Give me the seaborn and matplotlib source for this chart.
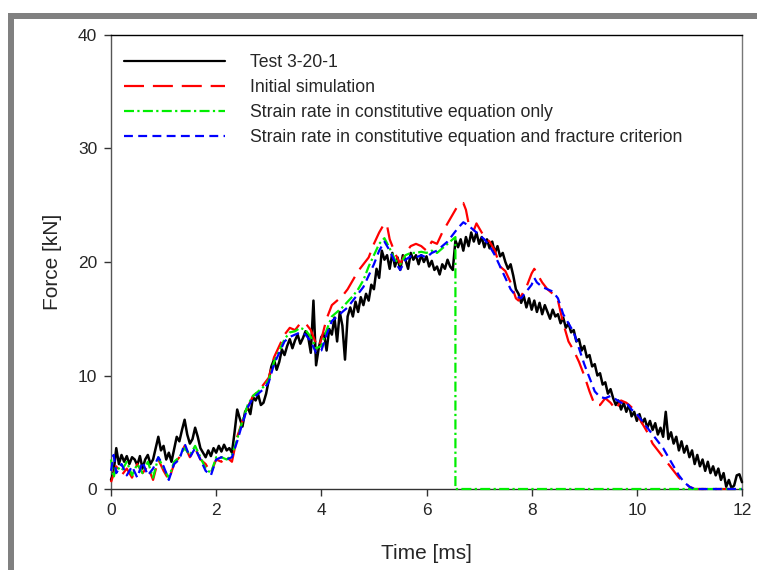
import matplotlib
matplotlib.use("Agg")
import matplotlib.pyplot as plt
import seaborn as sns
import pandas as pd
from matplotlib.patches import Rectangle
from matplotlib.lines import Line2D

# ---------------- data ----------------
test_time = [0.0, 0.05, 0.1, 0.15, 0.2, 0.25, 0.3, 0.35, 0.4, 0.45, 0.5, 0.55, 0.6, 0.65, 0.7, 0.75,
             0.8, 0.85, 0.9, 0.95, 1.0, 1.05, 1.1, 1.15, 1.2, 1.25, 1.3, 1.35, 1.4, 1.45, 1.5, 1.55,
             1.6, 1.65, 1.7, 1.75, 1.8, 1.85, 1.9, 1.95, 2.0, 2.05, 2.1, 2.15, 2.2, 2.25, 2.3, 2.35,
             2.4, 2.45, 2.5, 2.55, 2.6, 2.65, 2.7, 2.75, 2.8, 2.85, 2.9, 2.95, 3.0, 3.05, 3.1, 3.15,
             3.2, 3.25, 3.3, 3.35, 3.4, 3.45, 3.5, 3.55, 3.6, 3.65, 3.7, 3.75, 3.8, 3.85, 3.9, 3.95,
             4.0, 4.05, 4.1, 4.15, 4.2, 4.25, 4.3, 4.35, 4.4, 4.45, 4.5, 4.55, 4.6, 4.65, 4.7, 4.75,
             4.8, 4.85, 4.9, 4.95, 5.0, 5.05, 5.1, 5.15, 5.2, 5.25, 5.3, 5.35, 5.4, 5.45, 5.5, 5.55,
             5.6, 5.65, 5.7, 5.75, 5.8, 5.85, 5.9, 5.95, 6.0, 6.05, 6.1, 6.15, 6.2, 6.25, 6.3, 6.35,
             6.4, 6.45, 6.5, 6.55, 6.6, 6.65, 6.7, 6.75, 6.8, 6.85, 6.9, 6.95, 7.0, 7.05, 7.1, 7.15,
             7.2, 7.25, 7.3, 7.35, 7.4, 7.45, 7.5, 7.55, 7.6, 7.65, 7.7, 7.75, 7.8, 7.85, 7.9, 7.95,
             8.0, 8.05, 8.1, 8.15, 8.2, 8.25, 8.3, 8.35, 8.4, 8.45, 8.5, 8.55, 8.6, 8.65, 8.7, 8.75,
             8.8, 8.85, 8.9, 8.95, 9.0, 9.05, 9.1, 9.15, 9.2, 9.25, 9.3, 9.35, 9.4, 9.45, 9.5, 9.55,
             9.6, 9.65, 9.7, 9.75, 9.8, 9.85, 9.9, 9.95, 10.0, 10.05, 10.1, 10.15, 10.2, 10.25, 10.3,
             10.35, 10.4, 10.45, 10.5, 10.55, 10.6, 10.65, 10.7, 10.75, 10.8, 10.85, 10.9, 10.95,
             11.0, 11.05, 11.1, 11.15, 11.2, 11.25, 11.3, 11.35, 11.4, 11.45, 11.5, 11.55, 11.6,
             11.65, 11.7, 11.75, 11.8, 11.85, 11.9, 11.95, 12.0]
test_force = [0.8, 1.5, 3.6, 2.2, 3.0, 2.4, 2.9, 2.2, 2.8, 2.6, 2.1, 2.9, 1.8, 2.6, 3.0, 2.2,
              2.6, 3.6, 4.6, 3.4, 3.8, 2.6, 3.2, 2.4, 3.5, 4.6, 4.2, 5.2, 6.1, 4.8, 4.0, 4.4,
              5.4, 4.6, 3.6, 3.2, 2.8, 3.4, 2.9, 3.6, 3.2, 3.8, 3.3, 3.9, 3.4, 3.6, 3.2, 5.0,
              7.0, 6.2, 5.5, 6.8, 7.2, 6.6, 8.1, 7.8, 8.3, 7.4, 7.6, 8.4, 9.6, 10.8, 11.4, 10.5,
              11.2, 12.3, 11.8, 12.6, 13.2, 12.4, 13.1, 13.6, 12.8, 13.3, 13.9, 13.4, 12.0, 16.6, 10.9, 12.4,
              13.4, 13.7, 12.2, 14.1, 13.6, 15.1, 13.0, 15.6, 14.4, 11.4, 15.2, 16.0, 15.2, 16.5, 15.6, 16.9,
              16.2, 17.2, 16.6, 18.0, 17.6, 19.4, 18.6, 21.0, 20.2, 20.6, 19.4, 20.8, 19.6, 20.4, 19.3, 20.6,
              20.2, 19.4, 20.8, 20.2, 20.6, 19.8, 20.6, 20.0, 20.5, 19.6, 20.1, 19.3, 19.6, 18.9, 19.8, 19.4,
              20.2, 19.6, 19.3, 21.9, 21.3, 22.0, 21.0, 22.2, 21.4, 22.6, 21.8, 22.6, 21.6, 22.2, 21.3, 22.0,
              21.2, 21.8, 20.8, 21.4, 20.5, 20.8, 20.0, 19.4, 19.8, 18.8, 17.6, 17.2, 16.4, 17.0, 16.0, 16.8,
              15.8, 16.6, 15.6, 16.4, 15.4, 16.2, 15.6, 15.0, 15.8, 15.2, 15.4, 14.6, 15.1, 14.2, 14.6, 13.8,
              14.0, 13.0, 13.2, 12.2, 12.6, 11.6, 11.8, 10.8, 11.0, 10.0, 10.2, 9.2, 9.4, 8.4, 8.8, 8.0,
              7.4, 7.8, 7.0, 7.6, 6.8, 7.4, 6.4, 6.8, 6.0, 6.6, 5.8, 6.2, 5.4, 6.0, 5.2,
              5.8, 4.8, 5.4, 4.6, 6.8, 4.4, 5.0, 4.0, 4.6, 3.4, 4.2, 3.2, 3.8,
              2.8, 3.4, 2.2, 3.0, 2.0, 2.6, 1.6, 2.4, 1.4, 2.0, 1.2, 1.8, 0.8,
              1.4, 0.2, 0.8, 0.1, 0.3, 1.2, 1.3, 0.6]

init_time = [0.0, 0.1, 0.2, 0.3, 0.4, 0.5, 0.6, 0.7, 0.8, 0.9, 1.0, 1.1, 1.2, 1.3, 1.4, 1.5, 1.6,
             1.7, 1.8, 1.9, 2.0, 2.1, 2.2, 2.3, 2.4, 2.5, 2.6, 2.7, 2.8, 2.9, 3.0, 3.1, 3.2, 3.3,
             3.4, 3.5, 3.6, 3.7, 3.8, 3.9, 3.95, 4.0, 4.1, 4.2, 4.3, 4.4, 4.5, 4.6, 4.7, 4.8, 4.9,
             5.0, 5.1, 5.2, 5.25, 5.3, 5.4, 5.5, 5.6, 5.7, 5.8, 5.9, 6.0, 6.1, 6.2, 6.3, 6.4, 6.5,
             6.6, 6.7, 6.75, 6.8, 6.9, 6.95, 7.0, 7.1, 7.2, 7.3, 7.4, 7.5, 7.6, 7.7, 7.75, 7.8, 7.9,
             8.0, 8.05, 8.1, 8.2, 8.3, 8.4, 8.5, 8.6, 8.7, 8.8, 8.9, 9.0, 9.1, 9.2, 9.3, 9.4, 9.5,
             9.6, 9.7, 9.8, 9.9, 10.0, 10.1, 10.2, 10.3, 10.4, 10.5, 10.6, 10.7, 10.8, 10.9, 11.0,
             11.1, 12.0]
init_force = [0.6, 2.0, 1.2, 1.8, 1.0, 2.2, 1.4, 2.0, 0.8, 2.6, 1.6, 0.8, 2.2, 2.8, 3.8, 2.8, 3.6,
              2.6, 2.2, 1.4, 2.6, 2.4, 2.8, 2.4, 4.6, 6.0, 7.2, 8.2, 8.6, 9.2, 9.8, 11.6, 12.6, 13.6,
              14.2, 14.0, 14.6, 14.6, 14.0, 12.8, 12.5, 13.2, 15.0, 16.2, 16.6, 17.0, 17.6, 18.4, 19.2, 19.8, 20.4,
              21.6, 22.6, 23.4, 23.2, 22.0, 20.8, 19.8, 20.8, 21.4, 21.6, 21.4, 21.0, 21.8, 21.6, 22.6, 23.4, 24.2,
              25.0, 25.2, 24.6, 23.4, 22.8, 23.4, 23.0, 22.2, 21.8, 21.0, 19.6, 19.2, 18.2, 16.8, 16.6, 17.0, 17.8,
              19.0, 19.4, 19.0, 18.2, 17.6, 17.2, 16.6, 14.6, 13.0, 12.2, 11.2, 10.0, 8.6, 7.4, 7.4, 8.0, 7.6,
              7.0, 7.8, 7.6, 7.2, 6.6, 5.8, 5.0, 4.0, 3.4, 2.8, 2.2, 1.6, 1.0, 0.6, 0.2,
              0.0, 0.0]

srce_time = [0.0, 0.05, 0.1, 0.2, 0.3, 0.4, 0.5, 0.6, 0.7, 0.8, 0.9, 1.0, 1.1, 1.2, 1.3, 1.4, 1.5,
             1.6, 1.7, 1.8, 1.9, 2.0, 2.1, 2.2, 2.3, 2.4, 2.5, 2.6, 2.7, 2.8, 2.9, 3.0, 3.1, 3.2,
             3.3, 3.4, 3.5, 3.6, 3.7, 3.8, 3.9, 4.0, 4.1, 4.2, 4.3, 4.4, 4.5, 4.6, 4.7, 4.8, 4.9,
             5.0, 5.1, 5.2, 5.3, 5.4, 5.5, 5.6, 5.7, 5.8, 5.9, 6.0, 6.1, 6.2, 6.3, 6.4, 6.5, 6.55,
             6.55, 12.0]
srce_force = [2.6, 1.0, 2.0, 1.6, 2.4, 1.2, 2.2, 1.4, 2.4, 1.0, 2.8, 1.8, 1.0, 2.4, 2.8, 3.6, 3.0,
              3.8, 2.8, 1.8, 1.4, 2.8, 2.8, 2.6, 3.0, 4.4, 6.0, 7.4, 8.2, 8.6, 9.0, 9.6, 11.2, 12.2,
              13.2, 13.8, 13.9, 14.2, 14.0, 13.4, 12.4, 12.6, 14.0, 15.2, 15.6, 16.0, 16.5, 17.0, 17.6, 18.4, 19.6,
              20.6, 21.6, 22.1, 21.2, 20.2, 19.8, 20.6, 20.8, 20.8, 20.9, 20.8, 21.0, 20.8, 21.2, 21.6, 22.0, 22.2,
              0.0, 0.0]

srcf_time = [0.0, 0.05, 0.1, 0.2, 0.3, 0.4, 0.5, 0.6, 0.7, 0.8, 0.9, 1.0, 1.1, 1.2, 1.3, 1.4, 1.5,
             1.6, 1.7, 1.8, 1.9, 2.0, 2.1, 2.2, 2.3, 2.4, 2.5, 2.6, 2.7, 2.8, 2.9, 3.0, 3.1, 3.2,
             3.3, 3.4, 3.5, 3.6, 3.7, 3.8, 3.9, 4.0, 4.1, 4.2, 4.3, 4.4, 4.5, 4.6, 4.7, 4.8, 4.9,
             5.0, 5.1, 5.2, 5.3, 5.4, 5.5, 5.6, 5.7, 5.8, 5.9, 6.0, 6.1, 6.2, 6.3, 6.4, 6.5, 6.6,
             6.7, 6.8, 6.9, 7.0, 7.1, 7.2, 7.3, 7.4, 7.5, 7.6, 7.7, 7.8, 7.9, 8.0, 8.05, 8.1, 8.2,
             8.3, 8.4, 8.5, 8.6, 8.7, 8.8, 8.9, 9.0, 9.1, 9.2, 9.3, 9.4, 9.5, 9.6, 9.7, 9.8, 9.9,
             10.0, 10.1, 10.2, 10.3, 10.4, 10.5, 10.6, 10.7, 10.8, 10.9, 11.0, 11.1, 12.0]
srcf_force = [1.6, 3.0, 1.4, 2.2, 1.2, 2.0, 1.0, 2.4, 1.2, 1.8, 2.8, 2.0, 0.8, 2.2, 2.6, 4.0, 2.8,
              3.6, 2.6, 1.6, 1.2, 2.6, 2.8, 2.6, 2.8, 4.2, 5.8, 7.2, 8.0, 8.4, 8.8, 9.4, 11.0, 12.0,
              13.0, 13.4, 13.6, 13.8, 13.6, 13.0, 12.0, 12.2, 13.6, 14.8, 15.2, 15.6, 16.0, 16.6, 17.2, 17.8, 18.8,
              19.8, 21.0, 21.8, 21.0, 20.0, 19.3, 20.2, 20.5, 20.4, 20.6, 20.4, 20.8, 21.0, 21.4, 21.8, 22.4, 23.0,
              23.5, 23.2, 22.8, 22.4, 22.0, 21.4, 20.6, 19.6, 18.6, 17.6, 17.0, 16.8, 17.4, 18.0, 18.6, 18.2, 17.8,
              17.6, 17.4, 16.8, 15.4, 14.6, 13.8, 12.4, 11.0, 9.8, 8.6, 8.1, 8.0, 8.2, 7.9, 7.6, 7.6, 7.0,
              6.6, 6.0, 5.4, 4.8, 4.2, 3.6, 2.8, 2.0, 1.2, 0.6, 0.2, 0.0, 0.0]

labels = ["Test 3-20-1", "Initial simulation",
          "Strain rate in constitutive equation only",
          "Strain rate in constitutive equation and fracture criterion"]
x_ticks = [0, 2, 4, 6, 8, 10, 12]
y_ticks = [0, 10, 20, 30, 40]

# ---------------- style ----------------
sns.set_theme(style="white")
plt.rcParams["font.family"] = ["Liberation Sans", "DejaVu Sans"]

fig = plt.figure(figsize=(7.57, 5.70), dpi=100)
ax = fig.add_axes([111 / 757, 1 - 489 / 570, (742 - 111) / 757, (489 - 35) / 570])

# grey frame of the original screenshot
fig.patches.append(Rectangle((8 / 757, 0), 6 / 757, 1 - 13 / 570, transform=fig.transFigure,
                             facecolor="#808080", edgecolor="none", zorder=0))
fig.patches.append(Rectangle((8 / 757, 1 - 19 / 570), 1, 6 / 570, transform=fig.transFigure,
                             facecolor="#808080", edgecolor="none", zorder=0))

series = [
    (test_time, test_force, "#000000", "-", 1.8),
    (init_time, init_force, "#ff0000", (0, (9, 4)), 1.6),
    (srce_time, srce_force, "#00ee00", (0, (4.5, 1.5, 1.0, 1.5)), 1.6),
    (srcf_time, srcf_force, "#0000ff", (0, (4, 2.4)), 1.6),
]
handles = []
for (t, f, c, ls, lw), lab in zip(series, labels):
    df = pd.DataFrame({"Time [ms]": t, "Force [kN]": f})
    sns.lineplot(data=df, x="Time [ms]", y="Force [kN]", ax=ax, color=c, linestyle=ls,
                 linewidth=lw, estimator=None, sort=False, clip_on=False, zorder=3)
    handles.append(Line2D([], [], color=c, linestyle=ls, linewidth=1.6))

ax.set_xlim(0, 12)
ax.set_ylim(0, 40)
ax.set_xticks(x_ticks)
ax.set_yticks(y_ticks)
ax.tick_params(axis="both", which="major", direction="out", length=5, width=1,
               color="#333333", labelsize=12.5, pad=5, bottom=True, left=True, top=False, right=False)
ax.set_xlabel("Time [ms]", fontsize=15, labelpad=19)
ax.set_ylabel("Force [kN]", fontsize=15, labelpad=11)

for side, col in [("left", "#555555"), ("bottom", "#333333"), ("top", "#000000"), ("right", "#777777")]:
    ax.spines[side].set_visible(True)
    ax.spines[side].set_color(col)
    ax.spines[side].set_linewidth(1.0)

leg = ax.legend(handles, labels, loc="upper left", bbox_to_anchor=(0.021, 0.958), frameon=False,
                fontsize=12.7, handlelength=5.7, handletextpad=1.43, labelspacing=0.46,
                borderpad=0.0, borderaxespad=0.0)

fig.savefig("out.png", dpi=100)
